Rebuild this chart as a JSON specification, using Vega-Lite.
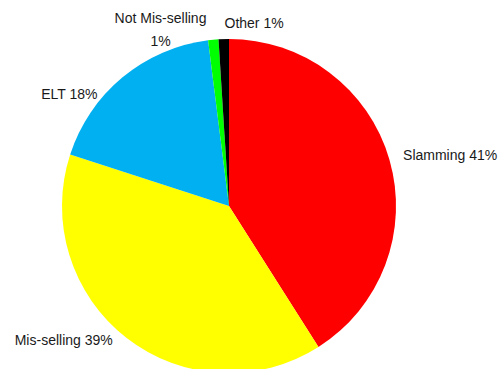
{
  "$schema": "https://vega.github.io/schema/vega-lite/v6.json",
  "autosize": "none",
  "padding": {"left": 0, "top": 0, "right": 43, "bottom": 0},
  "width": 458,
  "height": 412,
  "background": "white",
  "config": {"view": {"stroke": null}},
  "data": {"values": [
    {"cat": "Slamming", "value": 41, "order": 1, "label": "Slamming 41%"},
    {"cat": "Mis-selling", "value": 39, "order": 2, "label": "Mis-selling 39%"},
    {"cat": "ELT", "value": 18, "order": 3, "label": "ELT 18%"},
    {"cat": "Not Mis-selling", "value": 1, "order": 4, "label": "Not Mis-selling|1%"},
    {"cat": "Other", "value": 1, "order": 5, "label": "Other 1%"}
  ]},
  "transform": [
    {"stack": "value", "groupby": [], "sort": [{"field": "order"}], "as": ["v0", "v1"]},
    {"calculate": "(datum.v0 + datum.v1) / 2", "as": "mid"}
  ],
  "layer": [
    {
      "mark": {"type": "arc", "outerRadius": 167},
      "encoding": {
        "theta": {"field": "v0", "type": "quantitative", "scale": {"domain": [0, 100], "range": [0, 6.283185307]}},
        "theta2": {"field": "v1"},
        "color": {"field": "cat", "type": "nominal", "legend": null,
          "scale": {"domain": ["Slamming", "Mis-selling", "ELT", "Not Mis-selling", "Other"],
                    "range": ["#FF0000", "#FFFF00", "#00B0F0", "#00FF00", "#000000"]}}
      }
    },
    {
      "transform": [{"filter": "datum.cat === 'Slamming'"}],
      "mark": {"type": "text", "radius": 175, "align": "left", "baseline": "middle", "dx": 6, "dy": -1, "font": "Liberation Sans", "fontSize": 14, "color": "#1a1a1a"},
      "encoding": {
        "theta": {"field": "mid", "type": "quantitative", "scale": {"domain": [0, 100], "range": [0, 6.283185307]}},
        "text": {"field": "label"}
      }
    },
    {
      "transform": [{"filter": "datum.cat === 'Mis-selling'"}],
      "mark": {"type": "text", "radius": 175, "align": "right", "baseline": "middle", "dx": -9, "dy": -3, "font": "Liberation Sans", "fontSize": 14, "color": "#1a1a1a"},
      "encoding": {
        "theta": {"field": "mid", "type": "quantitative", "scale": {"domain": [0, 100], "range": [0, 6.283185307]}},
        "text": {"field": "label"}
      }
    },
    {
      "transform": [{"filter": "datum.cat === 'ELT'"}],
      "mark": {"type": "text", "radius": 175, "align": "right", "baseline": "middle", "dx": -20, "dy": 24, "font": "Liberation Sans", "fontSize": 14, "color": "#1a1a1a"},
      "encoding": {
        "theta": {"field": "mid", "type": "quantitative", "scale": {"domain": [0, 100], "range": [0, 6.283185307]}},
        "text": {"field": "label"}
      }
    },
    {
      "transform": [{"filter": "datum.cat === 'Not Mis-selling'"}],
      "mark": {"type": "text", "radius": 175, "align": "center", "baseline": "middle", "dx": -52, "dy": -13, "lineBreak": "|", "lineHeight": 23, "font": "Liberation Sans", "fontSize": 14, "color": "#1a1a1a"},
      "encoding": {
        "theta": {"field": "mid", "type": "quantitative", "scale": {"domain": [0, 100], "range": [0, 6.283185307]}},
        "text": {"field": "label"}
      }
    },
    {
      "transform": [{"filter": "datum.cat === 'Other'"}],
      "mark": {"type": "text", "radius": 175, "align": "left", "baseline": "middle", "dx": 1, "dy": -7, "font": "Liberation Sans", "fontSize": 14, "color": "#1a1a1a"},
      "encoding": {
        "theta": {"field": "mid", "type": "quantitative", "scale": {"domain": [0, 100], "range": [0, 6.283185307]}},
        "text": {"field": "label"}
      }
    }
  ]
}
